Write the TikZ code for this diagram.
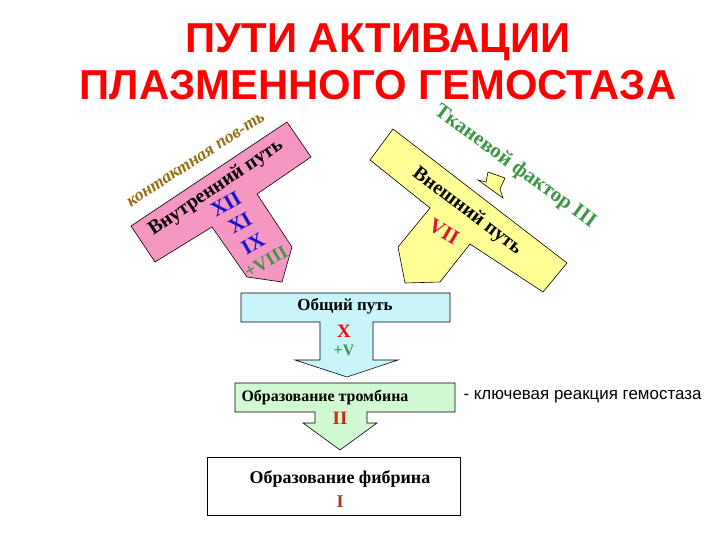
\documentclass[tikz,border=0pt]{standalone}
\usepackage{fontspec}
\setmainfont{Liberation Serif}
\newfontfamily\arialf{Liberation Sans}
\begin{document}
\begin{tikzpicture}[x=1bp,y=-1bp,
  shp/.style={draw=black,line width=0.6pt},
  lbl/.style={font=\bfseries\fontsize{17}{18}\selectfont},
  num/.style={font=\bfseries\fontsize{21}{21}\selectfont}]
\useasboundingbox (0,0) rectangle (720,540);
\node[text=red,font=\arialf\bfseries\fontsize{42}{47}\selectfont,align=center,inner sep=0pt] (title) at (378,62) {ПУТИ АКТИВАЦИИ\\ПЛАЗМЕННОГО ГЕМОСТАЗА};
% pink T
\draw[shp,fill={rgb,255:red,245;green,150;blue,195}] (131,226)--(287,122)--(311,157)--(257,194)--(292,247)--(282,282)--(247,277)--(212,227)--(155,262)--cycle;
% yellow T
\draw[shp,fill={rgb,255:red,255;green,255;blue,150}] (393,129)--(567,263)--(543,292)--(470,244)--(440,282)--(405,283)--(398,247)--(430,208)--(370,160)--cycle;
% small arrow
\draw[shp,fill={rgb,255:red,255;green,255;blue,150}] (488,172)--(505,178)--(500,189)--(503,198)--(478,180)--(486,182)--cycle;
\node[font=\bfseries\fontsize{20}{20}\selectfont,rotate=34] (intr) at (216,188) {Внутренний путь};
\node[num,text={rgb,255:red,20;green,20;blue,200},rotate=30] (f12) at (226,204) {XII};
\node[num,text={rgb,255:red,20;green,20;blue,200},rotate=30] (f11) at (240,223) {XI};
\node[num,text={rgb,255:red,20;green,20;blue,200},rotate=30] (f9) at (253,244) {IX};
\node[num,font=\bfseries\fontsize{19}{19}\selectfont,text={rgb,255:red,60;green,150;blue,70},rotate=30] (f8) at (266,262) {+VIII};
\node[font=\bfseries\itshape\fontsize{18}{18}\selectfont,text={rgb,255:red,150;green,110;blue,20},rotate=33] (cont) at (196,160) {контактная пов-ть};
\node[font=\bfseries\fontsize{20}{20}\selectfont,rotate=-37] (extr) at (467,211) {Внешний путь};
\node[num,text={rgb,255:red,220;green,20;blue,60},rotate=-30] (f7) at (444,232) {VII};
\node[font=\bfseries\fontsize{21}{21}\selectfont,text={rgb,255:red,60;green,150;blue,70},rotate=-36] (tf) at (515,167) {Тканевой фактор III};
% common path
\draw[shp,fill={rgb,255:red,200;green,245;blue,250}] (241,293)--(450,293)--(450,322)--(373,322)--(373,360)--(398,360)--(347,377)--(295,360)--(320,360)--(320,322)--(241,322)--cycle;
\node[lbl] (com) at (345,306) {Общий путь};
\node[num,font=\bfseries\fontsize{19}{19}\selectfont,text=red] (fx) at (344,331) {X};
\node[font=\bfseries\fontsize{16}{16}\selectfont,text={rgb,255:red,60;green,150;blue,70}] (fv) at (344,350) {+V};
% thrombin
\draw[shp,fill={rgb,255:red,210;green,250;blue,210}] (235,383)--(455,383)--(455,412)--(367,412)--(367,423)--(377,423)--(340,450)--(303,423)--(315,423)--(315,412)--(235,412)--cycle;
\node[font=\bfseries\fontsize{16}{16}\selectfont] (thr) at (325,397) {Образование тромбина};
\node[num,font=\bfseries\fontsize{19}{19}\selectfont,text={rgb,255:red,200;green,40;blue,20}] (f2) at (340,418) {II};
\node[draw=black,line width=0.6pt,fill=white,minimum width=253bp,minimum height=58bp,inner sep=0pt] (fib) at (333.5,486) {};
\node[font=\bfseries\fontsize{18}{18}\selectfont] (fibt) at (340,479) {Образование фибрина};
\node[num,font=\bfseries\fontsize{18}{18}\selectfont,text={rgb,255:red,180;green,50;blue,30}] (f1) at (340,502) {I};
\node[font=\arialf\fontsize{17}{17}\selectfont,anchor=west] (key) at (460,397) {- ключевая реакция гемостаза};
\end{tikzpicture}
\end{document}
